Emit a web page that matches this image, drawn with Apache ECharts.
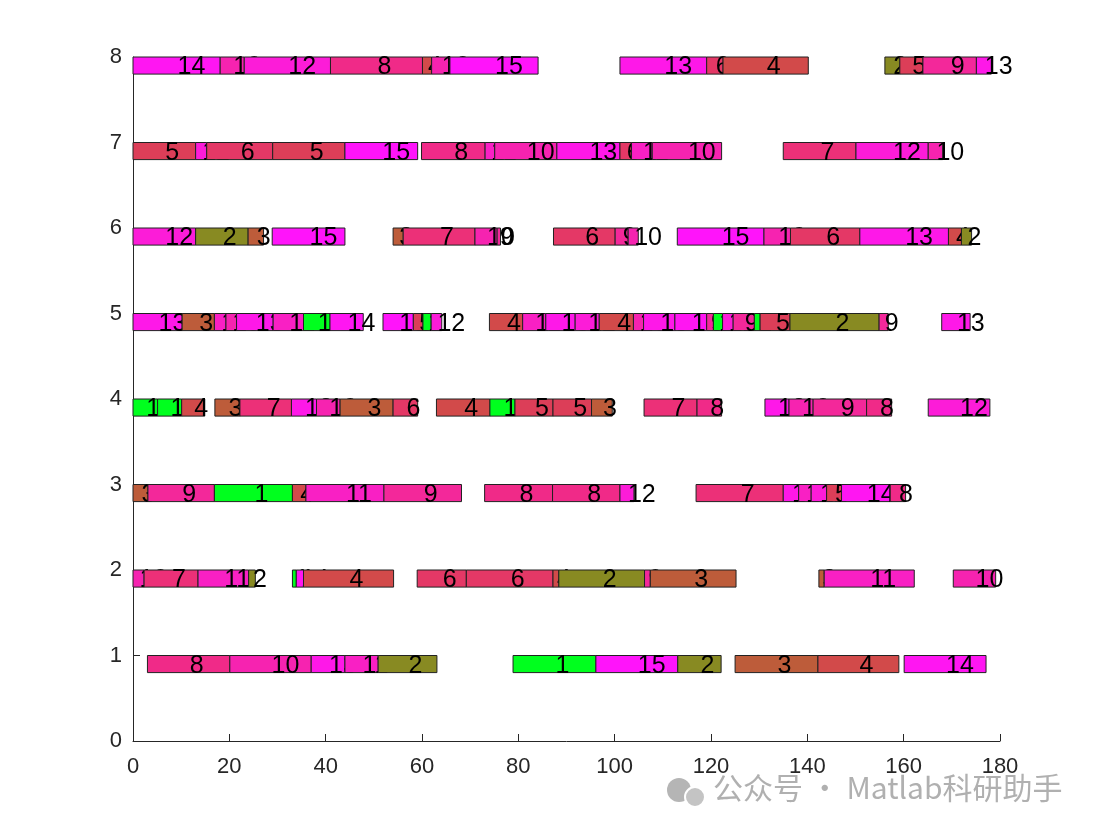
<!DOCTYPE html>
<html>
<head>
<meta charset="utf-8">
<title>Gantt</title>
<script src="https://cdn.jsdelivr.net/npm/echarts@6/dist/echarts.min.js"></script>
<style>
  html, body { margin: 0; padding: 0; background: #fff; }
  #gantt { width: 1101px; height: 831px; }
</style>
</head>
<body>
<div id="gantt"></div>
<script>
// machine rows 1..8, each with job number, start and end time of every operation
const m1Job   = [8, 10, 13, 11, 2, 1, 15, 2, 3, 4, 14];
const m1Start = [3.0, 20.1, 37.0, 44.0, 50.9, 78.9, 96.1, 113.1, 125.0, 142.2, 160.1];
const m1End   = [20.1, 37.0, 44.0, 50.9, 63.1, 96.1, 113.1, 122.1, 142.2, 159.0, 177.1];

const m2Job   = [10, 7, 11, 2, 1, 14, 4, 6, 6, 4, 2, 9, 3, 3, 11, 10];
const m2Start = [0, 2.3, 13.5, 24.0, 33.1, 33.9, 35.4, 59.0, 69.2, 87.2, 88.4, 106.2, 107.4, 142.4, 143.5, 170.3];
const m2End   = [2.3, 13.5, 24.0, 25.4, 33.9, 35.4, 54.1, 69.2, 87.2, 88.4, 106.2, 107.4, 125.2, 143.5, 162.2, 179.1];

const m3Job   = [3, 9, 1, 4, 11, 9, 8, 8, 12, 7, 13, 11, 12, 5, 14, 8];
const m3Start = [0, 3.1, 16.9, 33.1, 35.9, 52.1, 73.0, 87.1, 101.1, 116.9, 135.0, 138.2, 140.8, 144.0, 147.1, 157.2];
const m3End   = [3.1, 16.9, 33.1, 35.9, 52.1, 68.2, 87.1, 101.1, 104.0, 135.0, 138.2, 140.8, 144.0, 147.1, 157.2, 160.4];

const m4Job   = [1, 1, 4, 3, 7, 13, 10, 3, 6, 4, 1, 5, 5, 3, 7, 8, 13, 10, 9, 8, 12];
const m4Start = [0, 5.1, 10.1, 17.0, 22.2, 32.9, 38.1, 43.0, 54.0, 63.0, 74.1, 79.3, 87.2, 95.2, 106.1, 117.1, 131.2, 136.2, 141.2, 152.3, 165.1];
const m4End   = [5.1, 10.1, 14.9, 22.2, 32.9, 38.1, 43.0, 54.0, 59.1, 74.1, 79.3, 87.2, 95.2, 99.5, 117.1, 122.2, 136.2, 141.2, 152.3, 157.5, 177.9];

const m5Job   = [13, 3, 11, 10, 13, 11, 1, 14, 15, 5, 1, 12, 4, 11, 13, 12, 4, 10, 13, 14, 9, 1, 12, 9, 1, 5, 2, 9, 13];
const m5Start = [0, 10.2, 16.9, 19.3, 21.5, 29.1, 35.4, 40.9, 51.9, 58.2, 60.2, 61.9, 74.0, 80.9, 85.7, 91.8, 96.8, 103.9, 106.0, 112.5, 119.1, 120.5, 122.4, 124.6, 129.0, 130.2, 136.4, 154.9, 167.9];
const m5End   = [10.2, 16.9, 19.3, 21.5, 29.1, 35.4, 40.9, 47.8, 58.2, 60.2, 61.9, 64.1, 80.9, 85.7, 91.8, 96.8, 103.9, 106.0, 112.5, 119.1, 120.5, 122.4, 124.6, 129.0, 130.2, 136.4, 154.9, 156.8, 173.8];

const m6Job   = [12, 2, 3, 15, 3, 7, 10, 9, 6, 9, 10, 15, 10, 6, 13, 4, 2];
const m6Start = [0, 13.0, 23.9, 28.9, 54.0, 56.1, 71.0, 75.6, 87.3, 100.1, 102.8, 113.0, 131.0, 136.5, 150.9, 169.3, 172.0];
const m6End   = [13.0, 23.9, 27.1, 44.0, 56.1, 71.0, 75.6, 76.3, 100.1, 102.8, 104.9, 131.0, 136.5, 150.9, 169.3, 172.0, 174.1];

const m7Job   = [5, 12, 6, 5, 15, 8, 11, 10, 13, 6, 11, 10, 7, 12, 10];
const m7Start = [0, 13.0, 15.3, 29.0, 44.0, 59.9, 73.1, 75.1, 88.0, 101.1, 103.5, 107.8, 135.0, 150.1, 165.1];
const m7End   = [13.0, 15.3, 29.0, 44.0, 59.1, 73.1, 75.1, 88.0, 101.1, 103.5, 107.8, 122.2, 150.1, 165.1, 168.1];

const m8Job   = [14, 10, 12, 8, 4, 10, 15, 13, 6, 4, 2, 5, 9, 13];
const m8Start = [0, 18.1, 23.1, 41.0, 60.1, 62.0, 65.8, 101.1, 119.1, 122.5, 156.1, 159.2, 164.0, 175.1];
const m8End   = [18.1, 23.1, 41.0, 60.1, 62.0, 65.8, 84.1, 119.1, 122.5, 140.2, 159.2, 164.0, 175.1, 178.2];

// one colour per job (1..15)
const jobColors = ['#00ff1e', '#888a22', '#bd5c3a', '#d24a4a', '#dc3e58', '#e43866', '#ec3078',
                   '#f02a88', '#f3289a', '#f623b0', '#f920c4', '#fc1cd8', '#fe18e8', '#ff16f2', '#ff14fa'];

const xTicks = [0, 20, 40, 60, 80, 100, 120, 140, 160, 180];

var rows = [
  [m1Job, m1Start, m1End], [m2Job, m2Start, m2End], [m3Job, m3Start, m3End], [m4Job, m4Start, m4End],
  [m5Job, m5Start, m5End], [m6Job, m6Start, m6End], [m7Job, m7Start, m7End], [m8Job, m8Start, m8End]
];

var ganttData = [];
for (var m = 0; m < rows.length; m++) {
  for (var i = 0; i < rows[m][0].length; i++) {
    ganttData.push([m + 1, rows[m][1][i], rows[m][2][i], rows[m][0][i]]);
  }
}

function renderItem(params, api) {
  var y = api.value(0), s = api.value(1), e = api.value(2), job = api.value(3);
  var p0 = api.coord([s, y]);
  var p1 = api.coord([e, y - 0.2]);
  var pt = api.coord([(s + e) / 2, y - 0.1]);
  return {
    type: 'group',
    children: [
      {
        type: 'rect',
        shape: { x: p0[0], y: p0[1], width: p1[0] - p0[0], height: p1[1] - p0[1] },
        style: { fill: jobColors[job - 1], stroke: '#222', lineWidth: 1 }
      },
      {
        type: 'text',
        x: pt[0] + 1, y: pt[1] + 2,
        style: {
          text: String(job), fill: '#000', fontSize: 25,
          fontFamily: 'Liberation Sans, Arial, sans-serif',
          align: 'left', verticalAlign: 'middle'
        }
      }
    ]
  };
}

var dom = document.getElementById('gantt');
var myChart = echarts.init(dom);

var axisFont = { fontFamily: 'Liberation Sans, Arial, sans-serif', fontSize: 22, color: '#262626' };

option = {
  animation: false,
  backgroundColor: '#fff',
  grid: { left: 133, right: 101, top: 57, bottom: 90 },
  xAxis: {
    type: 'value', min: 0, max: 180, interval: 20,
    axisLine: { show: true, lineStyle: { color: '#262626', width: 1 } },
    axisTick: { show: true, inside: true, length: 7, lineStyle: { color: '#262626' } },
    axisLabel: Object.assign({ margin: 15, formatter: function (v) { return xTicks.indexOf(v) >= 0 ? String(v) : ''; } }, axisFont),
    splitLine: { show: false }
  },
  yAxis: {
    type: 'value', min: 0, max: 8, interval: 1,
    axisLine: { show: true, lineStyle: { color: '#262626', width: 1 } },
    axisTick: { show: true, inside: true, length: 7, lineStyle: { color: '#262626' } },
    axisLabel: Object.assign({ margin: 11 }, axisFont),
    splitLine: { show: false }
  },
  graphic: [
    { type: 'circle', left: 667, top: 778, shape: { r: 12 }, style: { fill: '#b5b5b5' } },
    { type: 'circle', left: 684, top: 786, shape: { r: 10 }, style: { fill: '#c4c4c4', stroke: '#fff', lineWidth: 2 } },
    {
      type: 'text', left: 713, top: 773,
      style: { text: '公众号 · Matlab科研助手', fill: '#b0b0b0', fontSize: 30, fontFamily: 'Noto Sans CJK SC, sans-serif' }
    }
  ],
  series: [
    {
      type: 'custom',
      renderItem: renderItem,
      clip: false,
      encode: { x: [1, 2], y: 0 },
      data: ganttData
    }
  ]
};

if (option && typeof option === 'object') {
  myChart.setOption(option, true);
}
</script>
</body>
</html>
